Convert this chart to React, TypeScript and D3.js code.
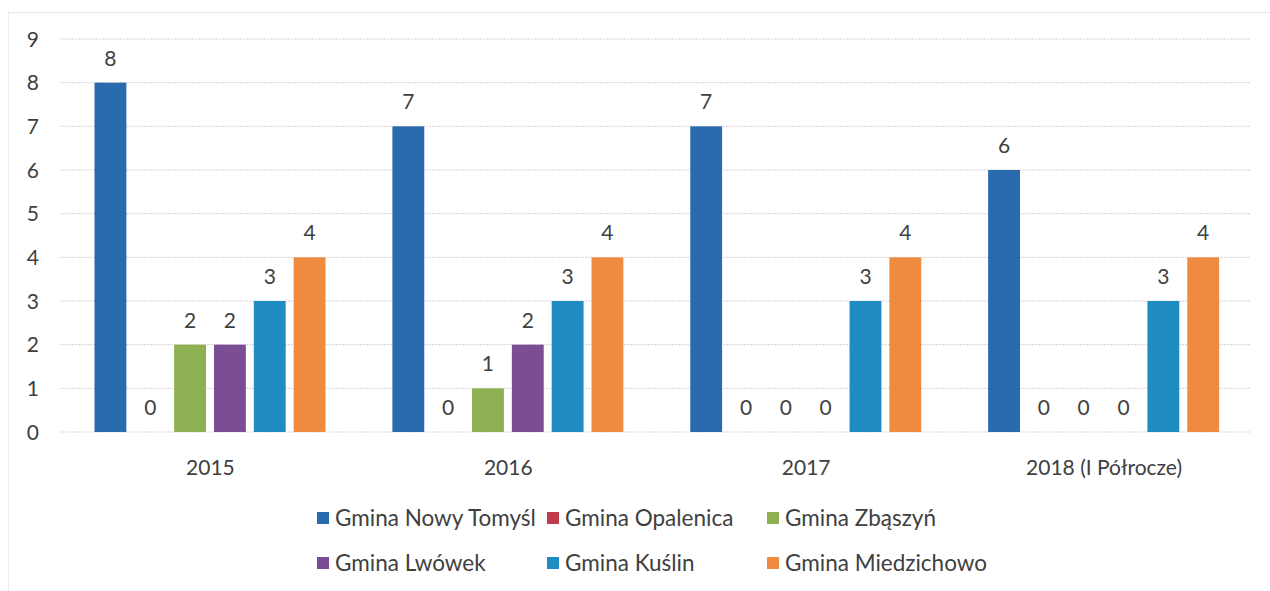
import * as d3 from 'd3';

const years = ['2015', '2016', '2017', '2018 (I Półrocze)'];
const gminy = [
  'Gmina Nowy Tomyśl',
  'Gmina Opalenica',
  'Gmina Zbąszyń',
  'Gmina Lwówek',
  'Gmina Kuślin',
  'Gmina Miedzichowo',
];
const nowyTomysl = [8, 7, 7, 6];
const opalenica = [0, 0, 0, 0];
const zbaszyn = [2, 1, 0, 0];
const lwowek = [2, 2, 0, 0];
const kuslin = [3, 3, 3, 3];
const miedzichowo = [4, 4, 4, 4];
const yTicks = [0, 1, 2, 3, 4, 5, 6, 7, 8, 9];

const series = [nowyTomysl, opalenica, zbaszyn, lwowek, kuslin, miedzichowo];
const colors = ['#2a6aae', '#c13b4c', '#8cb052', '#7b4d95', '#1f8cc3', '#ee8b3e'];

const W = 1270;
const H = 591;
const font = 'Lato, "Open Sans", sans-serif';

const App = () => {
  const x0 = d3.scaleBand().domain(years).range([61.5, 1253]);
  const x1 = d3.scaleBand().domain(gminy).range([33, 264]).paddingInner(0.2).paddingOuter(0);
  const y = d3.scaleLinear().domain([0, 9]).range([432, 39]);

  const legendX = [317, 547, 767];
  const legendY = [518, 563];

  return (
    <svg width={W} height={H} style={{ position: 'absolute', left: 0, top: 0, background: '#fff' }}>
      {/* chart frame */}
      <line x1={8} x2={W} y1={12.5} y2={12.5} stroke="#e2dde0" strokeDasharray="3 1" />
      <line x1={8.5} x2={8.5} y1={12} y2={H} stroke="#ece8ea" strokeDasharray="3 1" />

      {/* gridlines + y ticks */}
      {yTicks.map(t => (
        <g key={t}>
          <line x1={60} x2={1250} y1={y(t)} y2={y(t)} stroke="#d9cfd4" strokeDasharray="2 1" />
          <text x={39} y={y(t)} dy="0.36em" textAnchor="end" fontFamily={font} fontSize={21} fill="#404040">
            {t}
          </text>
        </g>
      ))}

      {/* bars */}
      {years.map((yr, i) => (
        <g key={yr} transform={`translate(${x0(yr)},0)`}>
          {gminy.map((g, j) => {
            const v = series[j][i];
            const bx = x1(g)!;
            return (
              <g key={g}>
                {v > 0 && (
                  <rect x={bx} y={y(v)} width={x1.bandwidth()} height={y(0) - y(v)} fill={colors[j]} />
                )}
                <text
                  x={bx + x1.bandwidth() / 2}
                  y={y(v) - 17}
                  textAnchor="middle"
                  fontFamily={font}
                  fontSize={21}
                  fill="#404040"
                >
                  {v}
                </text>
              </g>
            );
          })}
          <text
            x={x0.bandwidth() / 2}
            y={467}
            dy="0.36em"
            textAnchor="middle"
            fontFamily={font}
            fontSize={21}
            fill="#404040"
          >
            {yr}
          </text>
        </g>
      ))}

      {/* legend */}
      {gminy.map((g, j) => {
        const lx = legendX[j % 3];
        const ly = legendY[Math.floor(j / 3)];
        return (
          <g key={g}>
            <rect x={lx} y={ly - 6} width={12} height={12} fill={colors[j]} />
            <text x={lx + 18} y={ly} dy="0.36em" fontFamily={font} fontSize={22.5} fill="#404040">
              {g}
            </text>
          </g>
        );
      })}
    </svg>
  );
};

export default App;
